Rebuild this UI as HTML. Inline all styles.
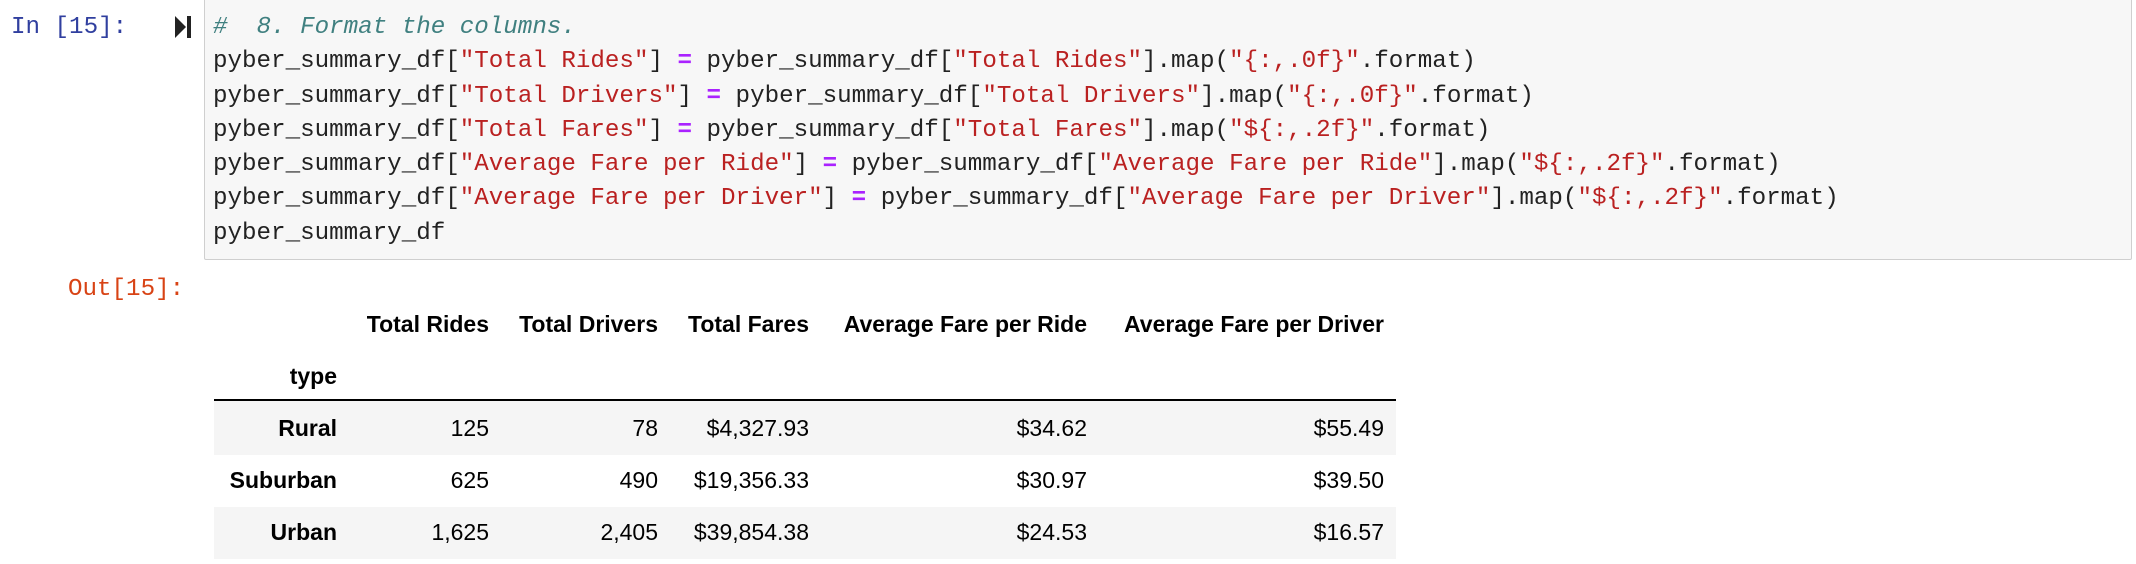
<!DOCTYPE html>
<html><head><meta charset="utf-8"><style>
body{margin:0;width:2136px;height:564px;background:#fff;position:relative;overflow:hidden}
.p{position:absolute;white-space:pre}
.code{font-family:"Liberation Mono",monospace;font-size:24.2px;line-height:34.3px;color:#222}
.c{color:#408080;font-style:italic}.s{color:#BA2121}.o{color:#AA22FF;font-weight:bold}
.t{font-family:"Liberation Sans",Arial,sans-serif;font-size:23px;color:#000;line-height:52px;height:52px}
.b{font-weight:bold}
.r{text-align:right}
</style></head><body>
<div class="p code" style="left:11px;top:11px;color:#303F9F">In [15]:</div>
<svg class="p" style="left:174px;top:15px" width="18" height="24"><polygon points="1,1 12,12 1,23" fill="#222"/><rect x="13" y="1" width="4" height="22" fill="#222"/></svg>
<div class="p" style="left:204px;top:-2px;width:1926px;height:260px;background:#f7f7f7;border:1px solid #cfcfcf;border-radius:2px"></div>
<div class="p code" style="left:213px;top:11px"><span class="c">#  8. Format the columns.</span>
pyber_summary_df[<span class="s">"Total Rides"</span>] <span class="o">=</span> pyber_summary_df[<span class="s">"Total Rides"</span>].map(<span class="s">"{:,.0f}"</span>.format)
pyber_summary_df[<span class="s">"Total Drivers"</span>] <span class="o">=</span> pyber_summary_df[<span class="s">"Total Drivers"</span>].map(<span class="s">"{:,.0f}"</span>.format)
pyber_summary_df[<span class="s">"Total Fares"</span>] <span class="o">=</span> pyber_summary_df[<span class="s">"Total Fares"</span>].map(<span class="s">"${:,.2f}"</span>.format)
pyber_summary_df[<span class="s">"Average Fare per Ride"</span>] <span class="o">=</span> pyber_summary_df[<span class="s">"Average Fare per Ride"</span>].map(<span class="s">"${:,.2f}"</span>.format)
pyber_summary_df[<span class="s">"Average Fare per Driver"</span>] <span class="o">=</span> pyber_summary_df[<span class="s">"Average Fare per Driver"</span>].map(<span class="s">"${:,.2f}"</span>.format)
pyber_summary_df</div>
<div class="p code" style="left:68px;top:273px;color:#D84315">Out[15]:</div>

<div class="p" style="left:214px;top:401px;width:1182px;height:54px;background:#f5f5f5"></div>
<div class="p" style="left:214px;top:507px;width:1182px;height:52px;background:#f5f5f5"></div>
<div class="p" style="left:214px;top:399px;width:1182px;height:2px;background:#000"></div>

<div id="tbl"></div>
<script>
var rights=[337,489,658,809,1087,1384];
var headers=["","Total Rides","Total Drivers","Total Fares","Average Fare per Ride","Average Fare per Driver"];
var rows=[["Rural","125","78","$4,327.93","$34.62","$55.49"],["Suburban","625","490","$19,356.33","$30.97","$39.50"],["Urban","1,625","2,405","$39,854.38","$24.53","$16.57"]];
var tbl=document.getElementById('tbl');
function cell(txt,right,top,bold,name){
 var d=document.createElement('div');
 d.className='p t r'+(bold?' b':'');
 d.style.right=(2136-right)+'px';d.style.top=top+'px';
 d.textContent=txt;
 
 
 tbl.appendChild(d);
}
headers.forEach(function(h,i){if(h)cell(h,rights[i],298,true,'column-header');});
cell('type',rights[0],350,true,'index-name');
rows.forEach(function(r,j){r.forEach(function(v,i){cell(v,rights[i],402+j*52,i==0,i==0?'row-label':'table-cell');});});
</script>
</body></html>
